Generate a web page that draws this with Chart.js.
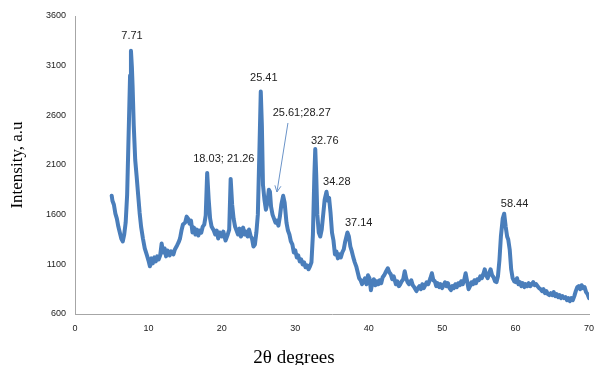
<!DOCTYPE html>
<html>
<head>
<meta charset="utf-8">
<script src="https://cdn.jsdelivr.net/npm/chart.js@4.4.1/dist/chart.umd.min.js"></script>
<style>
  html, body { margin: 0; padding: 0; background: #fff; }
  #wrap { width: 596px; height: 365px; position: relative; }
</style>
</head>
<body>
<div id="wrap"><canvas id="xrd"></canvas></div>
<script>
  // 2θ (deg) and intensity
  const twoTheta = [
    5.0, 5.1, 5.3, 5.5, 5.7, 5.9, 6.1, 6.3, 6.5, 6.7, 6.9, 7.1, 7.3, 7.5, 7.62, 7.75, 7.85, 8.0, 8.2, 8.4,
    8.6, 8.8, 9.0, 9.25, 9.5, 9.8, 10.0, 10.2, 10.4, 10.6, 10.8, 11.0, 11.2, 11.4, 11.6, 11.8, 12.0, 12.2, 12.4, 12.6,
    12.9, 13.1, 13.4, 13.6, 13.9, 14.1, 14.3, 14.5, 14.7, 15.0, 15.2, 15.4, 15.6, 15.8, 16.0, 16.2, 16.4, 16.6, 16.8, 17.0,
    17.2, 17.4, 17.6, 17.8, 18.0, 18.2, 18.4, 18.6, 18.9, 19.1, 19.3, 19.5, 19.7, 20.0, 20.2, 20.5, 20.8, 21.0, 21.2, 21.4,
    21.6, 21.8, 22.0, 22.2, 22.4, 22.6, 22.9, 23.1, 23.3, 23.5, 23.7, 23.9, 24.1, 24.3, 24.5, 24.7, 24.9, 25.1, 25.3, 25.45,
    25.6, 25.8, 26.0, 26.2, 26.4, 26.55, 26.7, 26.9, 27.1, 27.3, 27.5, 27.7, 27.9, 28.1, 28.35, 28.55, 28.8, 29.0, 29.2, 29.4,
    29.6, 29.8, 30.0, 30.2, 30.4, 30.6, 30.8, 31.0, 31.2, 31.4, 31.6, 31.8, 32.0, 32.2, 32.4, 32.6, 32.72, 32.85, 33.0, 33.2,
    33.4, 33.6, 33.8, 34.0, 34.25, 34.45, 34.6, 34.8, 35.0, 35.2, 35.4, 35.6, 35.8, 36.0, 36.2, 36.4, 36.6, 36.8, 37.1, 37.3,
    37.5, 37.7, 37.9, 38.1, 38.3, 38.5, 38.7, 38.9, 39.1, 39.3, 39.5, 39.7, 39.9, 40.1, 40.3, 40.5, 40.7, 40.9, 41.1, 41.3,
    41.5, 41.7, 41.9, 42.1, 42.3, 42.6, 42.8, 43.0, 43.2, 43.4, 43.7, 43.9, 44.1, 44.3, 44.5, 44.7, 44.9, 45.1, 45.3, 45.5,
    45.8, 46.0, 46.2, 46.5, 46.7, 46.9, 47.1, 47.3, 47.5, 47.7, 47.9, 48.1, 48.4, 48.6, 48.8, 49.0, 49.2, 49.4, 49.6, 49.8,
    50.0, 50.2, 50.4, 50.6, 50.8, 51.0, 51.2, 51.4, 51.6, 51.8, 52.0, 52.2, 52.4, 52.6, 52.8, 53.0, 53.2, 53.4, 53.6, 53.8,
    54.0, 54.2, 54.4, 54.6, 54.8, 55.0, 55.2, 55.4, 55.6, 55.8, 56.0, 56.2, 56.4, 56.6, 56.8, 57.0, 57.2, 57.4, 57.6, 57.8,
    58.0, 58.25, 58.45, 58.65, 58.85, 59.0, 59.2, 59.4, 59.6, 59.8, 60.0, 60.2, 60.4, 60.6, 60.8, 61.0, 61.2, 61.4, 61.6, 61.8,
    62.0, 62.2, 62.4, 62.6, 62.8, 63.0, 63.2, 63.4, 63.6, 63.8, 64.0, 64.2, 64.4, 64.6, 64.8, 65.0, 65.2, 65.4, 65.6, 65.8,
    66.0, 66.2, 66.4, 66.6, 66.8, 67.0, 67.2, 67.4, 67.6, 67.8, 68.0, 68.2, 68.4, 68.6, 68.8, 69.0, 69.2, 69.4, 69.6, 69.8,
    70.0
  ];
  const intensity = [
    1790, 1740, 1700, 1610, 1560, 1480, 1420, 1360, 1330, 1400, 1520, 1800, 2400, 3000, 3250, 3080, 2880, 2500, 2150, 1980,
    1800, 1620, 1480, 1360, 1260, 1190, 1140, 1080, 1160, 1110, 1170, 1130, 1180, 1150, 1190, 1310, 1220, 1260, 1180, 1240,
    1190, 1230, 1200, 1250, 1290, 1320, 1360, 1440, 1500, 1520, 1580, 1560, 1510, 1540, 1420, 1470, 1400, 1450, 1390, 1440,
    1420, 1480, 1500, 1590, 2020, 1760, 1560, 1480, 1440, 1400, 1440, 1360, 1420, 1380, 1430, 1340, 1400, 1450, 1960, 1700,
    1560, 1480, 1440, 1400, 1460, 1380, 1470, 1400, 1430, 1380, 1450, 1390, 1360, 1280, 1300, 1420, 1600, 2200, 2840, 2500,
    1900, 1750, 1650, 1720, 1850, 1830, 1680, 1600, 1560, 1520, 1540, 1490, 1580, 1700, 1790, 1720, 1520, 1440, 1400, 1330,
    1300, 1220, 1240, 1170, 1190, 1130, 1150, 1100, 1120, 1070, 1090, 1050, 1080, 1120, 1400, 2000, 2260, 2000, 1600, 1420,
    1380, 1450, 1600, 1750, 1830, 1740, 1770, 1620, 1420, 1340, 1200, 1230, 1160, 1200, 1170, 1220, 1250, 1330, 1420, 1380,
    1280, 1230, 1170, 1120, 1080, 1020, 960, 940, 900, 930, 960, 900, 990, 960, 840, 920, 950, 890, 930, 900,
    940, 910, 970, 990, 1020, 1060, 1020, 1000, 950, 980, 900, 930, 880, 900, 930, 950, 1030, 960, 920, 900,
    940, 890, 870, 830, 860, 880, 850, 900, 860, 890, 920, 900, 960, 1010, 940, 930, 880, 910, 870, 900,
    860, 890, 920, 880, 910, 860, 840, 880, 860, 900, 870, 910, 890, 930, 900, 940, 1010, 930, 850, 880,
    920, 900, 940, 910, 950, 940, 980, 960, 1000, 1050, 990, 960, 1010, 1050, 990, 970, 930, 920, 980, 1140,
    1380, 1560, 1610, 1480, 1380, 1350, 1250, 1050, 960, 930, 920, 960, 900, 920, 880, 910, 870, 900, 880, 910,
    880, 900, 920, 890, 900, 880, 860, 850, 830, 850, 810, 830, 800, 790, 810, 790, 820, 780, 800, 770,
    790, 760, 780, 760, 770, 740, 760, 730, 760, 740, 780, 830, 870, 880, 850, 890, 860, 870, 820, 800,
    760
  ];

  // peak labels (text, 2θ, intensity where the label sits)
  const peakText = ['7.71', '18.03; 21.26', '25.41', '25.61;28.27', '32.76', '34.28', '37.14', '58.44'];
  const peakAtX = [7.76, 20.27, 25.71, 30.88, 34.01, 35.65, 38.64, 59.86];
  const peakAtY = [3399, 2161, 2977, 2624, 2342, 1929, 1516, 1708];

  // the arrow under "25.61;28.27"
  const arrowFrom = [29.0, 2523];
  const arrowTo = [27.5, 1828];

  const xTicks = { min: 0, max: 70, step: 10 };
  const yTicks = { min: 600, max: 3600, step: 500 };

  const points = twoTheta.map((t, i) => ({ x: t, y: intensity[i] }));

  const tickFont = { family: 'Liberation Sans', size: 9 };

  const peakPlugin = {
    id: 'peaks',
    afterDatasetsDraw(chart) {
      const ctx = chart.ctx;
      const xs = chart.scales.x, ys = chart.scales.y;
      ctx.save();
      ctx.fillStyle = '#222';
      ctx.font = '11px "Liberation Sans"';
      ctx.textAlign = 'center';
      ctx.textBaseline = 'middle';
      peakText.forEach((t, i) => {
        ctx.fillText(t, xs.getPixelForValue(peakAtX[i]), ys.getPixelForValue(peakAtY[i]));
      });

      // arrow
      const x1 = xs.getPixelForValue(arrowFrom[0]), y1 = ys.getPixelForValue(arrowFrom[1]);
      const x2 = xs.getPixelForValue(arrowTo[0]), y2 = ys.getPixelForValue(arrowTo[1]);
      const a = Math.atan2(y2 - y1, x2 - x1);
      ctx.strokeStyle = '#6a93c8';
      ctx.lineWidth = 1;
      ctx.beginPath();
      ctx.moveTo(x1, y1);
      ctx.lineTo(x2, y2);
      ctx.moveTo(x2 - 7 * Math.cos(a - 0.45), y2 - 7 * Math.sin(a - 0.45));
      ctx.lineTo(x2, y2);
      ctx.lineTo(x2 - 7 * Math.cos(a + 0.45), y2 - 7 * Math.sin(a + 0.45));
      ctx.stroke();

      // x axis title sits low and is clipped by the bottom edge
      ctx.fillStyle = '#000';
      ctx.font = '19px "Liberation Serif"';
      ctx.textAlign = 'center';
      ctx.textBaseline = 'alphabetic';
      ctx.fillText('2θ degrees', 294, 363);
      ctx.restore();
    }
  };

  new Chart(document.getElementById('xrd'), {
    type: 'line',
    data: {
      datasets: [{
        data: points,
        borderColor: '#4a7ebb',
        borderWidth: 4,
        borderJoinStyle: 'round',
        borderCapStyle: 'round',
        pointRadius: 0,
        tension: 0,
        fill: false
      }]
    },
    options: {
      responsive: true,
      maintainAspectRatio: false,
      animation: false,
      layout: { padding: { top: 16, right: 7, left: 0, bottom: 0 } },
      plugins: { legend: { display: false }, tooltip: { enabled: false } },
      scales: {
        x: {
          type: 'linear',
          min: xTicks.min,
          max: xTicks.max,
          grid: { display: false, drawTicks: false },
          border: { display: true, color: '#a6a6a6', width: 1 },
          ticks: { stepSize: xTicks.step, padding: 9, color: '#222', font: tickFont, maxRotation: 0,
                   callback: v => String(v) },
          afterFit(s) { s.height = 51; s.paddingRight = 0; s.paddingLeft = 0; }
        },
        y: {
          min: yTicks.min,
          max: yTicks.max,
          grid: { display: false, drawTicks: false },
          border: { display: true, color: '#a6a6a6', width: 1 },
          ticks: { stepSize: yTicks.step, padding: 9, color: '#222', font: tickFont,
                   callback: v => String(v) },
          title: {
            display: true,
            text: 'Intensity, a.u',
            color: '#000',
            font: { family: 'Liberation Serif', size: 17 },
            padding: { top: 7, bottom: 0 }
          },
          afterFit(s) { s.width = 75; }
        }
      }
    },
    plugins: [peakPlugin]
  });
</script>
</body>
</html>
